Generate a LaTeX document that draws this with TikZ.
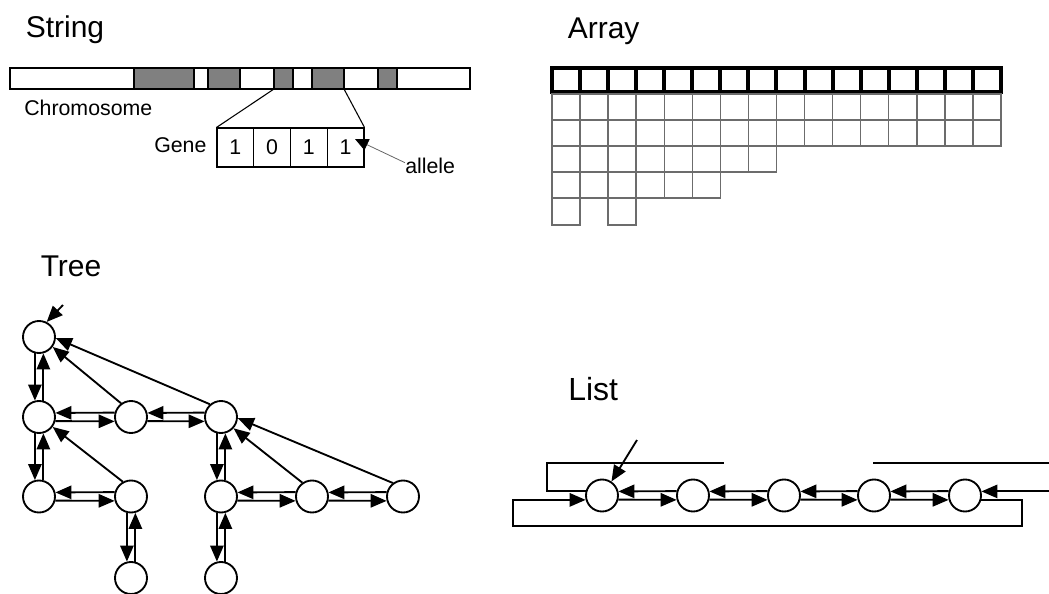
\documentclass[tikz,border=0pt]{standalone}
\usepackage{fontspec}
\setmainfont{Liberation Sans}
\usetikzlibrary{arrows.meta}
\newcommand\TreeV[2]{%
  \draw[arr] (#1.-104.5) -- (#2.104.5);
  \draw[arr] (#2.75.5) -- (#1.-75.5);}
\newcommand\TreeH[2]{%
  \draw[arr] (#2.165.5) -- (#1.14.5);
  \draw[arr] (#1.-14.5) -- (#2.-165.5);}
\begin{document}
\begin{tikzpicture}[x=0.75pt,y=-0.75pt,
  title/.style={anchor=base west,inner sep=0pt,font=\fontsize{22.5}{27}\selectfont},
  lbl/.style={anchor=base west,inner sep=0pt,font=\fontsize{16}{19}\selectfont},
  cnode/.style={circle,draw,line width=1.4pt,minimum size=24pt,inner sep=0pt},
  arr/.style={line width=1.4pt,-{Triangle[length=12pt,width=10pt]}},
  lnk/.style={line width=1.4pt},
  seg/.style={draw,line width=0.8pt,fill=gray},
  cell/.style={draw,line width=0.8pt,minimum width=27.56pt,minimum height=29.25pt,inner sep=0pt,font=\fontsize{16}{19}\selectfont},
  thick cell/.style={line width=3pt},
  thin cell/.style={line width=1.1pt,draw=gray!85!black}]
\useasboundingbox (0,0) rectangle (1049,593);

% ---------- String ----------
\node[title] (tstring) at (25.5,37) {String};
\draw[line width=0.8pt] (10,68) rectangle (470,89);
\foreach \a/\b in {134/194,208/240,274/293,312/344,378/397}
  \draw[seg] (\a,68) rectangle (\b,89);
\coordinate (g3sw) at (274,89);
\coordinate (g4se) at (344,89);
\node[lbl] (chrom) at (24,115) {Chromosome};
\node[cell] (c1) at (235.4,147.5) {1};
\node[cell] (c2) at (272.1,147.5) {0};
\node[cell] (c3) at (308.9,147.5) {1};
\node[cell] (c4) at (345.6,147.5) {1};
\node[lbl] (gene) at (154,152) {Gene};
\draw[line width=0.8pt] (g3sw) -- (c1.north west);
\draw[line width=0.8pt] (g4se) -- (c4.north east);
\node[lbl] (allele) at (405,173) {allele};
\coordinate (atip) at (355,139);
\draw[draw=gray!80!black,line width=0.6pt,-{Triangle[length=10pt,width=9pt,color=black]}]
  ([yshift=2pt]allele.west) -- (atip);

% ---------- Array ----------
\node[title] (tarray) at (567.5,38) {Array};
\foreach \i in {0,...,15}
  \draw[thick cell] ({552+28.06*\i},68) rectangle ({552+28.06*(\i+1)},92);
\foreach \r/\n in {0/16,1/16,2/8,3/6}
  \foreach \i in {1,...,\n}
    \draw[thin cell] ({552+28.06*(\i-1)},{94+26*\r}) rectangle +(28.06,26);
\foreach \i in {0,2}
  \draw[thin cell] ({552+28.06*\i},198) rectangle +(28.06,27);

% ---------- Tree ----------
\node[title] (ttree) at (40.5,276) {Tree};
\node[cnode] (root) at (39,337) {};
\node[cnode] (a2) at (39,417) {};
\node[cnode] (b2) at (131,417) {};
\node[cnode] (c2) at (221,417) {};
\node[cnode] (a3) at (39,496.5) {};
\node[cnode] (b3) at (131,496.5) {};
\node[cnode] (c3) at (221,496.5) {};
\node[cnode] (d3) at (312,496.5) {};
\node[cnode] (e3) at (403,496.5) {};
\node[cnode] (a4) at (131,578) {};
\node[cnode] (b4) at (221,578) {};
\coordinate (rp) at (63,305);
\draw[arr] (rp) -- (root.63);
\TreeV{root}{a2}
\TreeH{a2}{b2}
\TreeH{b2}{c2}
\draw[arr] (b2.126) -- (root.-36);
\draw[arr] (c2.131) -- (root.-4);
\TreeV{a2}{a3}
\TreeH{a3}{b3}
\draw[arr] (b3.119) -- (a2.-36);
\TreeV{b3}{a4}
\TreeV{c2}{c3}
\TreeH{c3}{d3}
\TreeH{d3}{e3}
\draw[arr] (d3.125) -- (c2.-42);
\draw[arr] (e3.127) -- (c2.-4);
\TreeV{c3}{b4}

% ---------- List ----------
\node[title,font=\fontsize{24}{29}\selectfont] (tlist) at (568,400) {List};
\node[cnode] (l1) at (602,495.5) {};
\node[cnode] (l2) at (693,495.5) {};
\node[cnode] (l3) at (784,495.5) {};
\node[cnode] (l4) at (874,495.5) {};
\node[cnode] (l5) at (965,495.5) {};
\TreeH{l1}{l2}
\TreeH{l2}{l3}
\TreeH{l3}{l4}
\TreeH{l4}{l5}
\coordinate (lp) at (637,440);
\draw[arr] (lp) -- (l1.56);
\draw[lnk] (l1.165.5) -| (547,463) -- (724,463);
\coordinate (rwrap) at (1058,463);
\draw[arr] (873,463) -- (rwrap) |- (l5.14.5);
\draw[arr] (l5.-14.5) -| (1022,526) -- (513,526) |- (l1.-165.5);
\end{tikzpicture}
\end{document}
